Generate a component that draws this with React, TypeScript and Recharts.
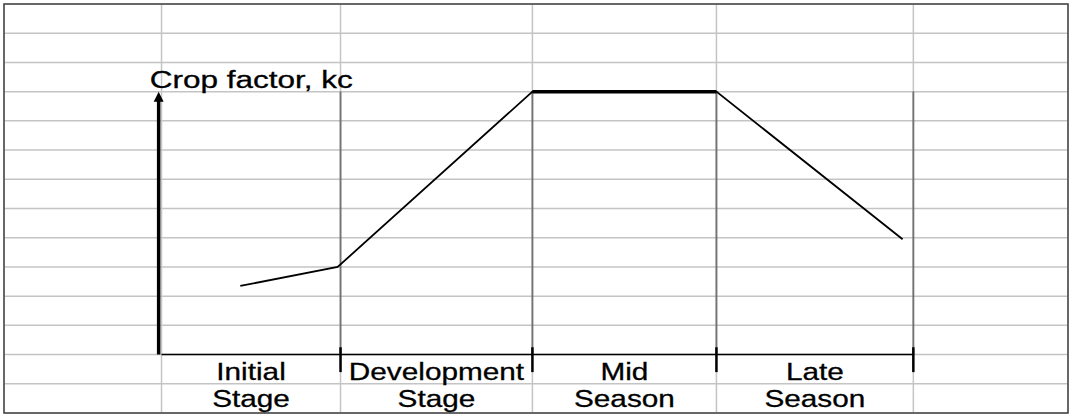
import { CartesianGrid, ComposedChart, Line, ReferenceArea, ReferenceLine, XAxis, YAxis } from "recharts";

// crop coefficient curve, days after planting vs kc
const days = [11, 24.6, 51.8, 77.5, 103.5];
const kcValues = [0.235, 0.3, 0.9, 0.9, 0.395];
const midSeason = [null, null, 0.9, 0.9, null];

const stageBounds = [0, 25, 51.8, 77.5, 105];
const stageNames = [
  ["Initial", "Stage"],
  ["Development", "Stage"],
  ["Mid", "Season"],
  ["Late", "Season"],
];

// the spreadsheet cells behind the sketch
const sheetCols = [-22, 0, 25, 51.8, 77.5, 105, 126.6];
const sheetRows = [-0.2, -0.1, 0, 0.1, 0.2, 0.3, 0.4, 0.5, 0.6, 0.7, 0.8, 0.9, 1.0, 1.1, 1.2];

const yTitle = "Crop factor, kc";

const data = days.map((d, i) => ({ day: d, kc: kcValues[i], mid: midSeason[i] }));

const FONT = "'Liberation Sans', Arial, sans-serif";

const KcArrow = (props: any) => {
  const { x1, y1, x2, y2 } = props;
  const top = Math.min(y1, y2);
  const bottom = Math.max(y1, y2);
  return (
    <g>
      <line x1={x1} y1={bottom} x2={x2} y2={top + 8} stroke="#000" strokeWidth={3.5} />
      <polygon points={`${x1 - 5},${top + 10} ${x1 + 5},${top + 10} ${x1},${top}`} fill="#000" />
      <text
        transform={`translate(${x1 - 9},${top - 4}) scale(1.37,1)`}
        fontFamily={FONT}
        fontSize={23}
        fill="#000"
        stroke="#000"
        strokeWidth={0.3}
      >
        {yTitle}
      </text>
    </g>
  );
};

const StageLabel = (props: any) => {
  const { viewBox, lines } = props;
  const cx = viewBox.x + viewBox.width / 2;
  const top = viewBox.y;
  return (
    <g>
      {lines.map((t: string, i: number) => (
        <text
          key={t + i}
          transform={`translate(${cx},${top + 25 + i * 27}) scale(1.24,1)`}
          textAnchor="middle"
          fontFamily={FONT}
          fontSize={24}
          fill="#000"
          stroke="#000"
          strokeWidth={0.3}
        >
          {t}
        </text>
      ))}
    </g>
  );
};

export default function App() {
  const xMin = sheetCols[0];
  const xMax = sheetCols[sheetCols.length - 1];
  const yMin = sheetRows[0];
  const yMax = sheetRows[sheetRows.length - 1];
  const kcTop = 0.9;
  return (
    <div style={{ position: "absolute", left: 0, top: 0, background: "#fff" }}>
      <ComposedChart width={1073} height={417} data={data} margin={{ top: 4, right: 5, bottom: 4, left: 4 }}>
        <XAxis dataKey="day" type="number" domain={[xMin, xMax]} ticks={sheetCols} allowDataOverflow hide />
        <YAxis type="number" domain={[yMin, yMax]} ticks={sheetRows} allowDataOverflow hide />
        <CartesianGrid stroke="#c4c4c4" strokeWidth={1.5} />
        <ReferenceArea x1={xMin} x2={xMax} y1={yMin} y2={yMax} fill="none" stroke="#444" strokeWidth={1.5} />

        {stageBounds.slice(1).map((b) => (
          <ReferenceLine
            key={`dot-${b}`}
            segment={[{ x: b, y: 0 }, { x: b, y: kcTop }]}
            stroke="#222"
            strokeWidth={2}
            strokeDasharray="1 1"
          />
        ))}

        <ReferenceLine segment={[{ x: stageBounds[0], y: 0 }, { x: stageBounds[4], y: 0 }]} stroke="#000" strokeWidth={1.5} />
        {stageBounds.slice(1).map((b) => (
          <ReferenceLine key={`tick-${b}`} segment={[{ x: b, y: 0.025 }, { x: b, y: -0.06 }]} stroke="#000" strokeWidth={2.5} />
        ))}

        <ReferenceLine segment={[{ x: -0.4, y: 0 }, { x: -0.4, y: kcTop }]} shape={KcArrow} />

        {stageNames.map((lines, i) => (
          <ReferenceArea
            key={lines[0]}
            x1={stageBounds[i]}
            x2={stageBounds[i + 1]}
            y1={0}
            y2={yMin}
            fill="none"
            stroke="none"
            label={<StageLabel lines={lines} />}
          />
        ))}

        <Line dataKey="kc" type="linear" stroke="#000" strokeWidth={1.8} dot={false} isAnimationActive={false} />
        <Line dataKey="mid" type="linear" stroke="#000" strokeWidth={3.5} dot={false} isAnimationActive={false} />
      </ComposedChart>
    </div>
  );
}
